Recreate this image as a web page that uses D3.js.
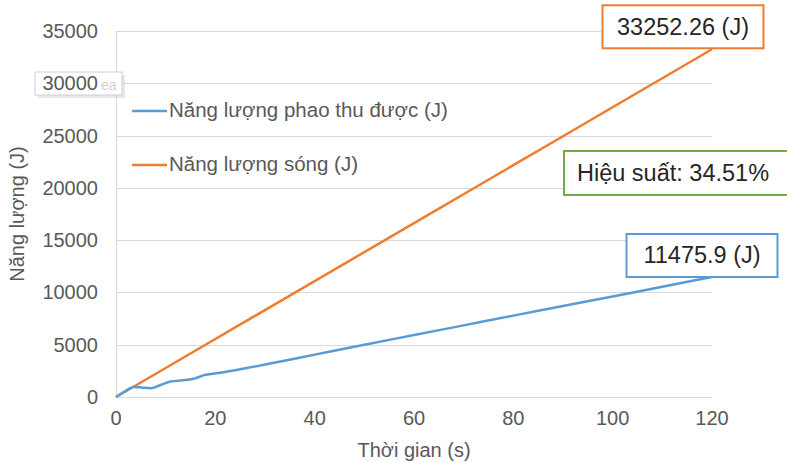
<!DOCTYPE html>
<html><head><meta charset="utf-8">
<script src="https://cdn.jsdelivr.net/npm/d3@7"></script>
<style>
html,body{margin:0;padding:0;background:#fff;}
text{font-family:"Liberation Sans",Arial,sans-serif;}
</style></head>
<body>
<svg id="chart" width="787" height="463"></svg>
<script>
// ---- data ----
const timeBuoy = [0, 2, 3.5, 5, 7, 9, 11, 14, 16, 18, 21, 25, 30, 40, 50, 60, 70, 80, 90, 100, 110, 120];
const energyBuoy = [0, 600, 950, 920, 840, 1150, 1480, 1620, 1800, 2120, 2320, 2650, 3100, 4050, 5000, 5920, 6850, 7780, 8700, 9620, 10550, 11475.9];
const timeWave = [0, 30, 60, 90, 120];
const energyWave = [0, 8313, 16626, 24939, 33252.26];
const xTicks = [0, 20, 40, 60, 80, 100, 120];
const yTicks = [0, 5000, 10000, 15000, 20000, 25000, 30000, 35000];
const seriesNames = ["Năng lượng phao thu được (J)", "Năng lượng sóng (J)"];
const seriesColors = ["#5B9BD5", "#ED7D31"];
const xTitle = "Thời gian (s)";
const yTitle = "Năng lượng (J)";
const waveLabel = "33252.26 (J)";
const buoyLabel = "11475.9 (J)";
const effLabel = "Hiệu suất: 34.51%";

const svg = d3.select("#chart");
const L = 116, R = 712, T = 31, B = 397;
const x = d3.scaleLinear().domain([0, 120]).range([L, R]);
const y = d3.scaleLinear().domain([0, 35000]).range([B, T]);

// gridlines
svg.append("g").selectAll("line").data(yTicks).join("line")
  .attr("x1", L).attr("x2", R)
  .attr("y1", d => Math.round(y(d)) + 0.5).attr("y2", d => Math.round(y(d)) + 0.5)
  .attr("stroke", "#d9d9d9").attr("stroke-width", 1);
// left axis line
svg.append("line").attr("x1", L + 0.5).attr("x2", L + 0.5).attr("y1", y(35000)).attr("y2", y(0))
  .attr("stroke", "#d9d9d9");

// artifact tooltip box near 30000 (drawn behind tick labels)
const art = svg.append("g");
art.append("rect").attr("x", 38).attr("y", 75).attr("width", 87).attr("height", 23)
  .attr("fill", "#bbb").attr("opacity", 0.35);
art.append("rect").attr("x", 35).attr("y", 72).attr("width", 87).attr("height", 23)
  .attr("fill", "#fff").attr("stroke", "#d0d0d0");
art.append("text").attr("x", 101).attr("y", 90).attr("font-size", 14).attr("fill", "#cfcfcf").text("ea");

// y tick labels
svg.append("g").selectAll("text").data(yTicks).join("text")
  .attr("x", 98).attr("y", d => y(d) + 7)
  .attr("text-anchor", "end").attr("font-size", 20).attr("fill", "#595959")
  .text(d => d);
// x tick labels
svg.append("g").selectAll("text").data(xTicks).join("text")
  .attr("x", d => x(d)).attr("y", 425)
  .attr("text-anchor", "middle").attr("font-size", 20).attr("fill", "#595959")
  .text(d => d);

// axis titles
svg.append("text").attr("x", x(60)).attr("y", 457).attr("text-anchor", "middle")
  .attr("font-size", 20).attr("fill", "#595959").text(xTitle);
svg.append("text").attr("transform", "translate(24,214) rotate(-90)").attr("text-anchor", "middle")
  .attr("font-size", 20).attr("fill", "#595959").text(yTitle);

// lines
const lineGen = d3.line().x(d => x(d[0])).y(d => y(d[1])).curve(d3.curveMonotoneX);
svg.append("path").datum(timeWave.map((t, i) => [t, energyWave[i]]))
  .attr("d", lineGen).attr("fill", "none").attr("stroke", seriesColors[1]).attr("stroke-width", 2.5);
svg.append("path").datum(timeBuoy.map((t, i) => [t, energyBuoy[i]]))
  .attr("d", lineGen).attr("fill", "none").attr("stroke", seriesColors[0]).attr("stroke-width", 2.5);

// legend
const leg = svg.append("g").selectAll("g").data(seriesNames).join("g")
  .attr("transform", (d, i) => `translate(132,${111 + i * 54})`);
leg.append("line").attr("x1", 0).attr("x2", 35).attr("y1", 0).attr("y2", 0)
  .attr("stroke", (d, i) => seriesColors[i]).attr("stroke-width", 2.5);
leg.append("text").attr("x", 37).attr("y", 6).attr("font-size", 20.5).attr("fill", "#595959").text(d => d);

// annotations
function box(cx, bottom, w, h, color, label, anchor) {
  const g = svg.append("g");
  const x0 = anchor === "start" ? cx : cx - w / 2;
  g.append("rect").attr("x", x0).attr("y", bottom - h).attr("width", w).attr("height", h)
    .attr("fill", "#fff").attr("stroke", color).attr("stroke-width", 2);
  g.append("text").attr("x", anchor === "start" ? x0 + 13 : cx).attr("y", bottom - h / 2 + 8)
    .attr("text-anchor", anchor === "start" ? "start" : "middle")
    .attr("font-size", 23.5).attr("fill", "#262626").text(label);
}
box(x(120) - 29, y(energyWave[4]) - 1, 161, 43, seriesColors[1], waveLabel, "middle");
box(x(120) - 10, y(energyBuoy[energyBuoy.length - 1]), 151, 43, seriesColors[0], buoyLabel, "middle");
box(564, 195, 240, 44, "#70AD47", effLabel, "start");
</script>
</body></html>
